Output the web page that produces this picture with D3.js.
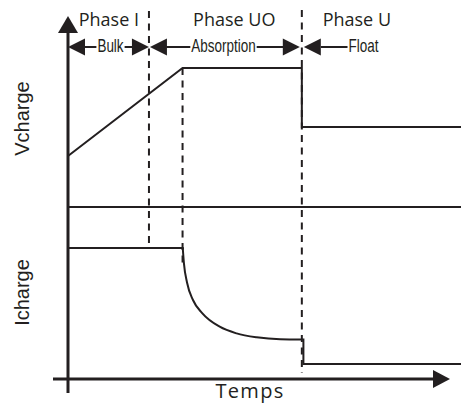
<!DOCTYPE html>
<html>
<head>
<meta charset="utf-8">
<script src="https://cdn.jsdelivr.net/npm/d3@7/dist/d3.min.js"></script>
<style>
html,body{margin:0;padding:0;background:#fff;}
svg{display:block;}
</style>
</head>
<body>
<svg id="chart" width="461" height="405"></svg>
<script>
// ---- data (arbitrary time / value units) ----
const phaseBoundaries = [20.6, 29.15, 59.5];           // Bulk|Absorption, plateau start, Absorption|Float
const phaseLabels = ["Phase I", "Phase UO", "Phase U"];
const phaseLabelCenters = [10.4, 42.3, 73.5];
const modeLabels = ["Bulk", "Absorption", "Float"];
const axisLabels = {x: "Temps", v: "Vcharge", i: "Icharge"};

const vTimes  = [0, 29.15, 59.5, 59.5, 100];
const vValues = [3.67, 10, 10, 5.76, 5.76];

const iBulkTimes  = [0, 29.2];
const iBulkValues = [10, 10];
const iDecayTimes  = [29.2, 29.5, 30.3, 31.8, 34.2, 38.6, 42.9, 48.0, 54.0, 59.7];
const iDecayValues = [10, 8.83, 7.35, 6.03, 5.01, 3.99, 3.48, 3.18, 3.03, 3.01];
const iFloatTimes  = [59.9, 59.9, 100];
const iFloatValues = [3.01, 1.15, 1.15];

// ---- scales ----
const ink = "#231f20";
const svg = d3.select("#chart");
const x  = d3.scaleLinear().domain([0, 100]).range([68, 461]);
const vY = d3.scaleLinear().domain([0, 10]).range([207, 68]);
const iY = d3.scaleLinear().domain([0, 10]).range([379, 248]);

// ---- axes ----
const x0 = x(0), yBase = iY(0);
svg.append("line").attr("x1", x0).attr("x2", x0).attr("y1", yBase + 14).attr("y2", 30)
  .attr("stroke", ink).attr("stroke-width", 3);
svg.append("path").attr("d", `M${x0-10},33 L${x0},16 L${x0+10},33 Z`).attr("fill", ink);
svg.append("line").attr("x1", x0 - 15).attr("x2", 436).attr("y1", yBase).attr("y2", yBase)
  .attr("stroke", ink).attr("stroke-width", 3);
svg.append("path").attr("d", `M433,${yBase-9} L450,${yBase} L433,${yBase+9} Z`).attr("fill", ink);

// divider between voltage and current panels
svg.append("line").attr("x1", x0).attr("x2", x(100)).attr("y1", vY(0)).attr("y2", vY(0))
  .attr("stroke", ink).attr("stroke-width", 2);

// ---- dashed phase lines ----
const dashTop = [11, vY(10), 10];
const dashBottom = [iY(10), iY(8.6), iY(0.46)];
phaseBoundaries.forEach((b, k) => {
  svg.append("line").attr("x1", x(b)).attr("x2", x(b)).attr("y1", dashTop[k]).attr("y2", dashBottom[k])
    .attr("stroke", ink).attr("stroke-width", 2).attr("stroke-dasharray", "7,5.5");
});

// ---- series ----
const lineV = d3.line().x((d, k) => x(vTimes[k])).y(d => vY(d));
svg.append("path").attr("d", lineV(vValues)).attr("fill", "none").attr("stroke", ink)
  .attr("stroke-width", 2).attr("stroke-linejoin", "miter");

const mk = (times, curve) => d3.line().x((d, k) => x(times[k])).y(d => iY(d)).curve(curve);
svg.append("path").attr("d", mk(iBulkTimes, d3.curveLinear)(iBulkValues)).attr("fill", "none")
  .attr("stroke", ink).attr("stroke-width", 2).attr("stroke-linecap", "square");
svg.append("path").attr("d", mk(iDecayTimes, d3.curveMonotoneX)(iDecayValues)).attr("fill", "none")
  .attr("stroke", ink).attr("stroke-width", 2);
svg.append("path").attr("d", mk(iFloatTimes, d3.curveLinear)(iFloatValues)).attr("fill", "none")
  .attr("stroke", ink).attr("stroke-width", 2).attr("stroke-linecap", "square");

// ---- phase labels ----
phaseLabels.forEach((t, k) => {
  svg.append("text").attr("x", x(phaseLabelCenters[k])).attr("y", 26).attr("text-anchor", "middle")
    .attr("font-family", "'Open Sans', sans-serif").attr("font-size", 18).attr("fill", ink).text(t);
});

// ---- mode arrows row ----
const ay = 47, ah = 8.5, al = 17;
const squeeze = 0.77;
function modeText(t, cx) {
  const el = svg.append("text").attr("transform", `translate(${cx},51.5) scale(${squeeze},1)`)
    .attr("text-anchor", "middle")
    .attr("font-family", "'Liberation Sans', Arial, sans-serif").attr("font-size", 17.5)
    .attr("fill", ink).text(t);
  const w = el.node().getComputedTextLength() * squeeze;
  return {x: cx - w / 2, width: w};
}
function headLeft(tip) { svg.append("path").attr("d", `M${tip},${ay} L${tip+al},${ay-ah} L${tip+al},${ay+ah} Z`).attr("fill", ink); }
function headRight(tip) { svg.append("path").attr("d", `M${tip},${ay} L${tip-al},${ay-ah} L${tip-al},${ay+ah} Z`).attr("fill", ink); }
function seg(a, b) { svg.append("line").attr("x1", a).attr("x2", b).attr("y1", ay).attr("y2", ay).attr("stroke", ink).attr("stroke-width", 2); }

const bx1 = x(phaseBoundaries[0]), bx3 = x(phaseBoundaries[2]);
const bb1 = modeText(modeLabels[0], 110.5);
headLeft(x0); seg(x0 + al, bb1.x - 1); seg(bb1.x + bb1.width + 1, bx1 - al + 1); headRight(bx1);
const bb2 = modeText(modeLabels[1], 223.5);
headLeft(bx1 + 1); seg(bx1 + al, bb2.x - 1); seg(bb2.x + bb2.width + 1, bx3 - 2 - al + 1); headRight(bx3 - 2);
const bb3 = modeText(modeLabels[2], 363.5);
headLeft(bx3 + 2); seg(bx3 + 2 + al, bb3.x - 1);

// ---- axis titles ----
svg.append("text").attr("x", 250).attr("y", 398).attr("text-anchor", "middle")
  .attr("font-family", "'Open Sans', sans-serif").attr("font-size", 20).attr("letter-spacing", 1.3)
  .attr("fill", ink).text(axisLabels.x);
svg.append("text").attr("transform", `translate(29,${(vY(10)+vY(0))/2 - 19}) rotate(-90)`).attr("text-anchor", "middle")
  .attr("font-family", "'Liberation Sans', Arial, sans-serif").attr("font-size", 20).attr("fill", ink).text(axisLabels.v);
svg.append("text").attr("transform", `translate(29,292.5) rotate(-90)`).attr("text-anchor", "middle")
  .attr("font-family", "'Liberation Sans', Arial, sans-serif").attr("font-size", 20).attr("fill", ink).text(axisLabels.i);
</script>
</body>
</html>
